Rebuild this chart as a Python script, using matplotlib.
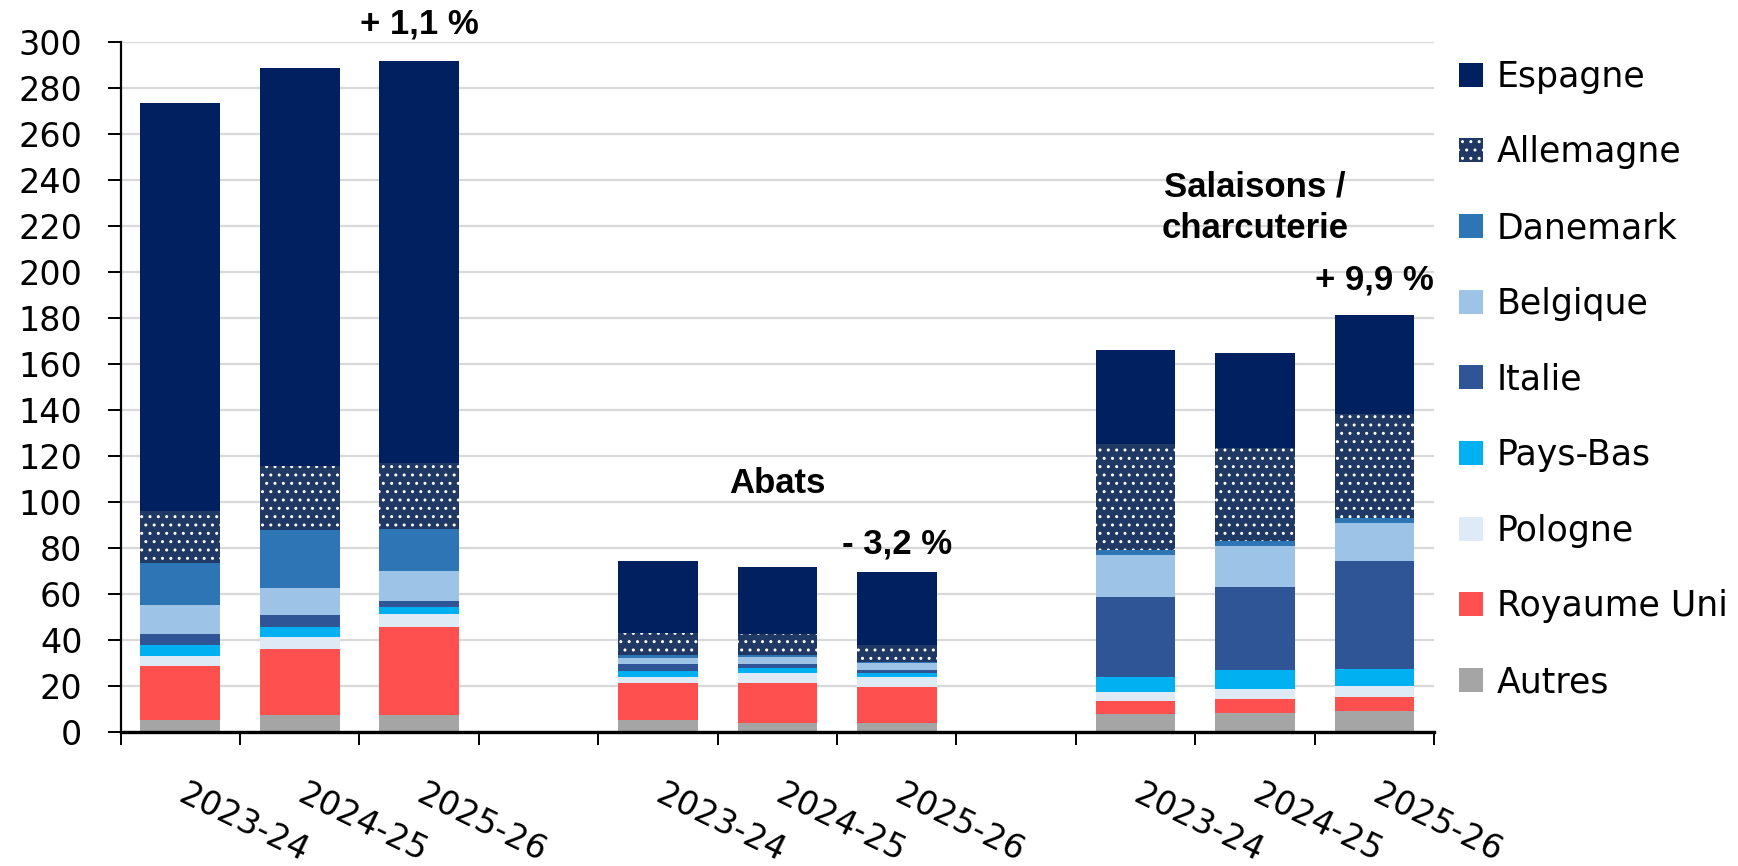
import numpy as np
import matplotlib
matplotlib.use("Agg")
import matplotlib.pyplot as plt
from matplotlib.patches import Patch

# Data, stacked bottom -> top
periodes = ["2023-24", "2024-25", "2025-26"]
pays = ["Autres", "Royaume Uni", "Pologne", "Pays-Bas", "Italie",
        "Belgique", "Danemark", "Allemagne", "Espagne"]

# one list per country: 3 bars x 3 groups (viande, abats, salaisons)
autres      = [5.3, 7.5, 7.4,    5.3, 4.0, 4.2,    8.0, 8.4, 9.4]
royaume_uni = [23.5, 28.9, 38.4, 16.3, 17.6, 15.6, 5.8, 6.1, 6.1]
pologne     = [4.4, 5.0, 5.6,    2.6, 4.3, 4.4,    3.7, 4.3, 4.8]
pays_bas    = [4.6, 4.4, 2.9,    2.5, 2.1, 1.6,    6.7, 8.3, 7.2]
italie      = [4.9, 5.2, 2.9,    2.9, 1.7, 1.3,    34.8, 36.1, 47.1]
belgique    = [12.5, 11.7, 12.8, 2.6, 3.0, 3.2,    18.1, 17.8, 16.4]
danemark    = [18.5, 25.1, 18.4, 1.4, 0.8, 0.2,    2.0, 2.0, 2.0]
allemagne   = [22.4, 27.8, 28.7, 9.7, 9.1, 7.5,    46.2, 40.6, 45.5]
espagne     = [177.4, 173.1, 174.9, 31.3, 29.3, 31.6, 40.9, 41.4, 43.0]

series = [autres, royaume_uni, pologne, pays_bas, italie,
          belgique, danemark, allemagne, espagne]
couleurs = ["#a5a5a5", "#ff5050", "#deebf7", "#00b0f0", "#2f5597",
            "#9dc3e6", "#2e75b6", "#1f3864", "#002060"]

# bar slots on the category axis (gaps at 3 and 7)
x = np.array([0, 1, 2, 4, 5, 6, 8, 9, 10])

fig = plt.figure(figsize=(17.38, 8.66), dpi=100)
ax = fig.add_axes([0.0694, 0.1544, 0.7557, 0.7968])

bottom = np.zeros(len(x))
for nom, vals, c in zip(pays, series, couleurs):
    vals = np.array(vals)
    if nom == "Allemagne":
        ax.bar(x, vals, 0.667, bottom=bottom, color=c, hatch="..",
               edgecolor="white", linewidth=0, zorder=3)
    else:
        ax.bar(x, vals, 0.667, bottom=bottom, color=c, linewidth=0, zorder=3)
    bottom += vals

ax.set_xlim(-0.5, 10.5)
ax.set_ylim(0, 300)
ax.set_yticks(np.arange(0, 301, 20))
ax.yaxis.grid(True, color="#d9d9d9", linewidth=1.6, zorder=0)

for s in ["top", "right"]:
    ax.spines[s].set_visible(False)
ax.spines["left"].set_linewidth(1.6)
ax.spines["bottom"].set_linewidth(2.4)
ax.spines["bottom"].set_zorder(5)

ax.tick_params(axis="y", direction="out", length=9.5, width=1.4,
               labelsize=24, pad=18)
for lab in ax.get_yticklabels():
    lab.set_fontfamily("DejaVu Sans")

ax.set_xticks(x)
ax.set_xticklabels(periodes * 3, rotation=-26, ha="left", va="center",
                   rotation_mode="anchor", fontsize=24, family="DejaVu Sans")
ax.tick_params(axis="x", which="major", length=0, pad=43)
ax.set_xticks(np.arange(-0.5, 11, 1), minor=True)
ax.tick_params(axis="x", which="minor", direction="out", length=9, width=1.4)

# annotations
bold = dict(fontsize=25, fontweight="bold", family="Liberation Sans",
            ha="center", va="center", clip_on=False)
ax.text(2, 308, "+ 1,1 %", **bold)
ax.text(5, 108, "Abats", **bold)
ax.text(6, 82, "- 3,2 %", **bold)
ax.text(9, 228, "Salaisons /\ncharcuterie", linespacing=1.3, **bold)
ax.text(10, 196.5, "+ 9,9 %", **bold)

handles = []
for nom, c in zip(pays[::-1], couleurs[::-1]):
    if nom == "Allemagne":
        handles.append(Patch(facecolor=c, hatch="..", edgecolor="white", linewidth=0, label=nom))
    else:
        handles.append(Patch(facecolor=c, linewidth=0, label=nom))
fig.legend(handles=handles, loc="upper left", bbox_to_anchor=(0.8395, 0.931),
           frameon=False, prop={"family": "DejaVu Sans", "size": 25},
           handlelength=0.69, handleheight=0.69, handletextpad=0.4,
           labelspacing=1.2, borderpad=0, borderaxespad=0)

fig.savefig("out.png", dpi=100)
